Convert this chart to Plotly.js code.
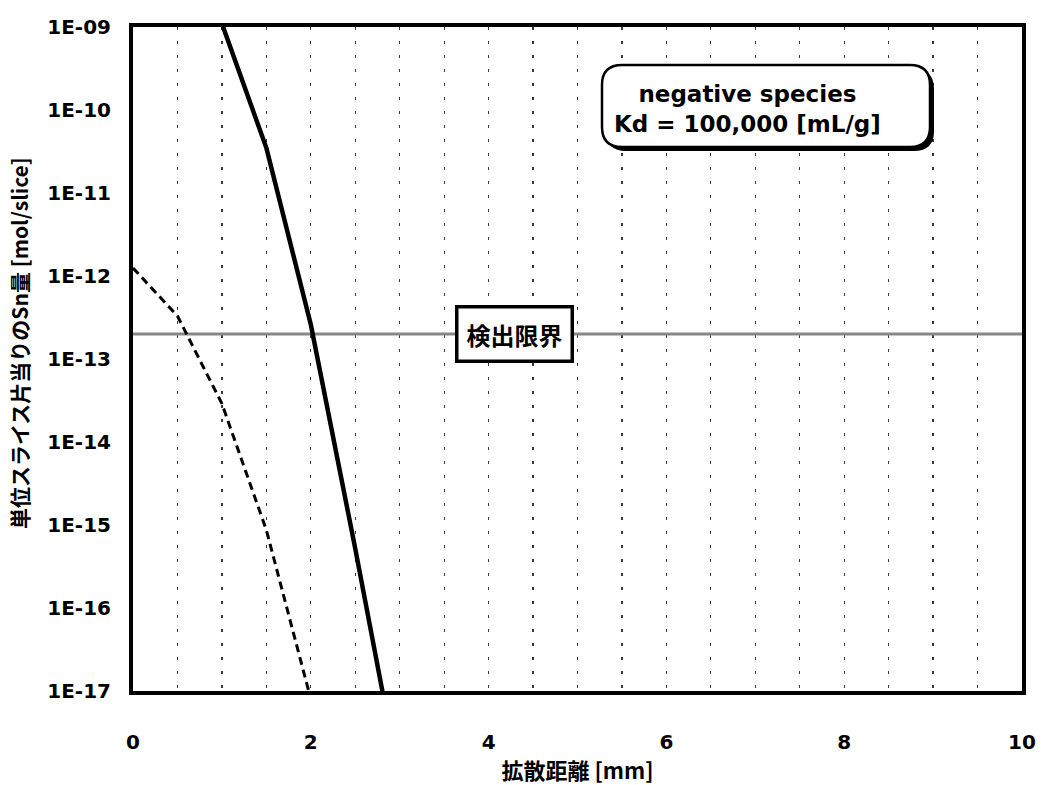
<!DOCTYPE html>
<html>
<head>
<meta charset="utf-8">
<script src="https://cdn.plot.ly/plotly-3.0.1.min.js"></script>
<style>
  html, body { margin: 0; padding: 0; background: #ffffff; }
  #chart { width: 1041px; height: 785px; }
</style>
</head>
<body>
<div id="chart"></div>
<script>
// ---- data ----
const solidX = [1.0, 1.5, 2.0, 2.5, 3.0];
const solidY = [1.1e-9, 3.5e-11, 2.6e-13, 5.2e-16, 8e-19];
const dashedX = [0, 0.5, 1.0, 1.5, 2.0];
const dashedY = [1.25e-12, 3.3e-13, 2.9e-14, 8.7e-16, 8e-18];
const detectionLimit = 2e-13;
const detectionX = [0, 10];
const yTickVals = [1e-9, 1e-10, 1e-11, 1e-12, 1e-13, 1e-14, 1e-15, 1e-16, 1e-17];
const yTickText = ["1E-09", "1E-10", "1E-11", "1E-12", "1E-13", "1E-14", "1E-15", "1E-16", "1E-17"];
const xTickVals = [0, 2, 4, 6, 8, 10];
const xTickText = ["0", "2", "4", "6", "8", "10"];
const xGridMinor = [0.5, 1, 1.5, 2.5, 3, 3.5, 4.5, 5, 5.5, 6.5, 7, 7.5, 8.5, 9, 9.5];
const xTitle = "拡散距離 [mm]";
const yTitle = "単位スライス片当りのSn量 [mol/slice]";
const detectionLabel = "検出限界";
const infoLines = ["negative species", "Kd = 100,000 [mL/g]"];

// ---- layout geometry ----
const W = 1041, H = 785;
const M = { l: 133, r: 19, t: 27, b: 94 };
const PW = W - M.l - M.r, PH = H - M.t - M.b;
const LATIN = '"DejaVu Sans", "Liberation Sans", Arial, sans-serif';
const CJK = '"Noto Sans CJK JP", "Noto Sans CJK SC", sans-serif';
const px2x = p => (p - M.l) / PW;
const px2y = p => 1 - (p - M.t) / PH;

// rounded-rectangle path in paper coords from pixel box
function roundRect(px0, py0, px1, py1, r) {
  const fx = p => px2x(p).toFixed(5);
  const fy = p => px2y(p).toFixed(5);
  return 'M ' + fx(px0 + r) + ',' + fy(py0) +
    ' L ' + fx(px1 - r) + ',' + fy(py0) +
    ' Q ' + fx(px1) + ',' + fy(py0) + ' ' + fx(px1) + ',' + fy(py0 + r) +
    ' L ' + fx(px1) + ',' + fy(py1 - r) +
    ' Q ' + fx(px1) + ',' + fy(py1) + ' ' + fx(px1 - r) + ',' + fy(py1) +
    ' L ' + fx(px0 + r) + ',' + fy(py1) +
    ' Q ' + fx(px0) + ',' + fy(py1) + ' ' + fx(px0) + ',' + fy(py1 - r) +
    ' L ' + fx(px0) + ',' + fy(py0 + r) +
    ' Q ' + fx(px0) + ',' + fy(py0) + ' ' + fx(px0 + r) + ',' + fy(py0) + ' Z';
}

const traces = [
  {
    x: detectionX, y: detectionX.map(() => detectionLimit),
    mode: 'lines', line: { color: '#878787', width: 3 },
    hoverinfo: 'skip', showlegend: false
  },
  {
    x: dashedX, y: dashedY, mode: 'lines',
    line: { color: '#000000', width: 3, dash: '8px,5px' },
    showlegend: false
  },
  {
    x: solidX, y: solidY, mode: 'lines',
    line: { color: '#000000', width: 4.5 },
    showlegend: false
  }
];

const layout = {
  width: W, height: H,
  margin: M,
  paper_bgcolor: '#ffffff', plot_bgcolor: '#ffffff',
  showlegend: false,
  xaxis: {
    range: [0, 10],
    tickmode: 'array', tickvals: xTickVals, ticktext: xTickText,
    ticks: '', ticklabelstandoff: 30,
    tickfont: { family: LATIN, size: 20, color: '#000', weight: 'bold' },
    showline: true, mirror: true, linecolor: '#000', linewidth: 4,
    showgrid: true, gridcolor: '#3a3a3a', gridwidth: 1.3, griddash: '3px,11px',
    minor: { tickvals: xGridMinor, showgrid: true, gridcolor: '#3a3a3a', gridwidth: 1.3, griddash: '3px,11px', ticks: '' },
    zeroline: false,
    title: { text: xTitle, font: { family: CJK, size: 22, color: '#000', weight: 'bold' }, standoff: 15 }
  },
  yaxis: {
    type: 'log', range: [-17, -9],
    tickmode: 'array', tickvals: yTickVals, ticktext: yTickText,
    ticks: '', ticklabelstandoff: 14,
    tickfont: { family: LATIN, size: 20, color: '#000', weight: 'bold' },
    showline: true, mirror: true, linecolor: '#000', linewidth: 4,
    showgrid: false, zeroline: false
  },
  shapes: [
    { type: 'path', xref: 'paper', yref: 'paper', path: roundRect(606, 69, 934, 151, 20),
      fillcolor: '#000', line: { width: 0 }, layer: 'above' },
    { type: 'path', xref: 'paper', yref: 'paper', path: roundRect(602, 65, 930, 147, 20),
      fillcolor: '#ffffff', line: { color: '#000', width: 2.5 }, layer: 'above' }
  ],
  annotations: [
    {
      x: 4.29, y: Math.log10(detectionLimit), xref: 'x', yref: 'y',
      xanchor: 'center', yanchor: 'middle',
      text: detectionLabel, showarrow: false,
      font: { family: CJK, size: 24, color: '#000', weight: 'bold' },
      bgcolor: '#ffffff', bordercolor: '#000', borderwidth: 3.5, borderpad: 8
    },
    {
      x: px2x(747), y: px2y(109), xref: 'paper', yref: 'paper',
      xanchor: 'center', yanchor: 'middle',
      text: infoLines.join('<br>'), showarrow: false, align: 'center',
      font: { family: LATIN, size: 23, color: '#000', weight: 'bold' }
    },
    {
      x: px2x(19), y: px2y(343), xref: 'paper', yref: 'paper',
      xanchor: 'center', yanchor: 'middle', textangle: -90,
      text: yTitle, showarrow: false,
      font: { family: CJK, size: 21, color: '#000', weight: 'bold' }
    }
  ]
};

Plotly.newPlot('chart', traces, layout, { displayModeBar: false, staticPlot: true });
</script>
</body>
</html>
